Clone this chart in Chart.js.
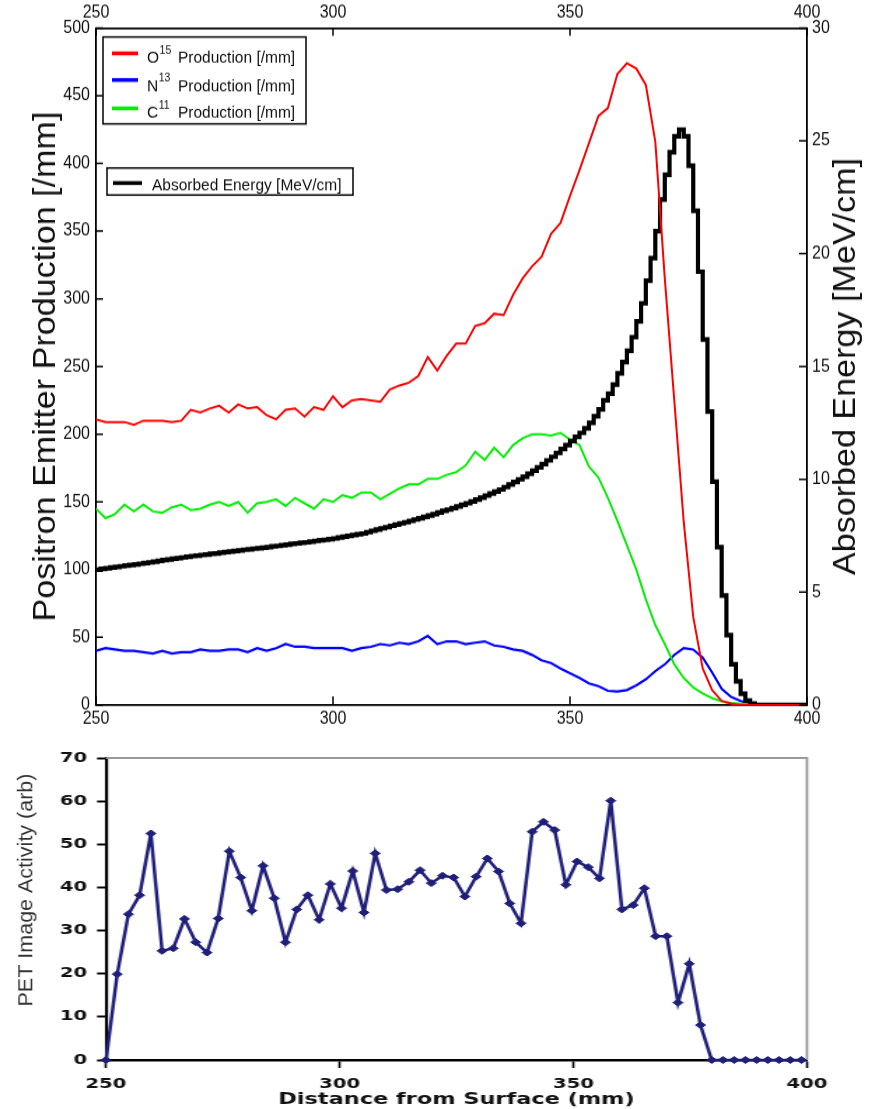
<!DOCTYPE html>
<html>
<head>
<meta charset="utf-8">
<title>Positron emitter production and PET activity</title>
<script src="https://cdn.jsdelivr.net/npm/chart.js@4.4.1/dist/chart.umd.min.js"></script>
<style>
  body { margin: 0; background: #fff; }
  /* the top figure is a little taller than wide in the original, so stretch it */
  #topBox { position: absolute; left: 0; top: 0; width: 875px; height: 665px;
            transform: scaleY(1.1); transform-origin: 0 0; }
  /* the PET plot was pasted in stretched sideways (wide glyphs and markers) */
  #petBox { position: absolute; left: 0; top: 735px; width: 625px; height: 374px;
            transform: scaleX(1.4); transform-origin: 0 0; }
</style>
</head>
<body>
<div id="topBox"><canvas id="emitterChart" width="875" height="665"></canvas></div>
<div id="petBox"><canvas id="petChart" width="625" height="374"></canvas></div>
<script>
// depth grids (mm)
const depth1mm = [
  250, 251, 252, 253, 254, 255, 256, 257, 258, 259,
  260, 261, 262, 263, 264, 265, 266, 267, 268, 269,
  270, 271, 272, 273, 274, 275, 276, 277, 278, 279,
  280, 281, 282, 283, 284, 285, 286, 287, 288, 289,
  290, 291, 292, 293, 294, 295, 296, 297, 298, 299,
  300, 301, 302, 303, 304, 305, 306, 307, 308, 309,
  310, 311, 312, 313, 314, 315, 316, 317, 318, 319,
  320, 321, 322, 323, 324, 325, 326, 327, 328, 329,
  330, 331, 332, 333, 334, 335, 336, 337, 338, 339,
  340, 341, 342, 343, 344, 345, 346, 347, 348, 349,
  350, 351, 352, 353, 354, 355, 356, 357, 358, 359,
  360, 361, 362, 363, 364, 365, 366, 367, 368, 369,
  370, 371, 372, 373, 374, 375, 376, 377, 378, 379,
  380, 381, 382, 383, 384, 385, 386, 387, 388, 389,
  390, 391, 392, 393, 394, 395, 396, 397, 398, 399,
  400
];
const depth2mm = [
  250, 252, 254, 256, 258, 260, 262, 264, 266, 268,
  270, 272, 274, 276, 278, 280, 282, 284, 286, 288,
  290, 292, 294, 296, 298, 300, 302, 304, 306, 308,
  310, 312, 314, 316, 318, 320, 322, 324, 326, 328,
  330, 332, 334, 336, 338, 340, 342, 344, 346, 348,
  350, 352, 354, 356, 358, 360, 362, 364, 366, 368,
  370, 372, 374, 376, 378, 380, 382, 384, 386, 388,
  390, 392, 394, 396, 398, 400
];

// production per mm (left axis)
const o15Production = [
  211, 209, 209, 209, 207, 210, 210, 210, 209, 210,
  218, 216, 219, 221, 216, 222, 219, 220, 214, 211,
  218, 219, 213, 220, 218, 228, 220, 225, 226, 225,
  224, 233, 236, 238, 243, 257, 247, 258, 267, 267,
  280, 282, 289, 288, 303, 315, 324, 331, 348, 356,
  376, 395, 415, 435, 441, 466, 474, 470, 458, 416,
  315, 225, 135, 65, 27, 11, 3, 1, 0, 0,
  0, 0, 0, 0, 0, 0
];
const n13Production = [
  40, 42, 41, 40, 40, 39, 38, 40, 38, 39,
  39, 41, 40, 40, 41, 41, 39, 42, 40, 42,
  45, 43, 43, 42, 42, 42, 42, 40, 42, 43,
  45, 44, 46, 45, 47, 51, 45, 47, 47, 45,
  46, 47, 44, 43, 41, 40, 37, 33, 31, 27,
  23.5, 20, 16, 14, 10.5, 10, 11, 14.5, 19, 25,
  30, 37, 42, 41, 35, 24, 12, 6, 3, 1,
  0.3, 0, 0, 0, 0, 0
];
const c11Production = [
  145, 138, 141, 148, 143, 148, 143, 142, 146, 148,
  144, 145, 148, 150, 147, 150, 142, 149, 150, 152,
  147, 153, 149, 145, 152, 150, 155, 153, 157, 157,
  152, 156, 160, 163, 163, 167, 167, 170, 172, 177,
  187, 181, 190, 183, 192, 197, 200, 200, 199, 201,
  196, 192, 176, 168, 153, 136, 118, 100, 78, 59,
  45, 30, 20, 13, 8.5, 5, 2.7, 1.6, 1, 0.4,
  0, 0, 0, 0, 0, 0
];
// absorbed energy MeV/cm (right axis), 1 mm bins
const absorbedEnergy = [
  6.0, 6.03, 6.06, 6.09, 6.12, 6.15, 6.18, 6.2, 6.23, 6.26,
  6.29, 6.32, 6.35, 6.39, 6.42, 6.45, 6.48, 6.51, 6.54, 6.57,
  6.6, 6.62, 6.65, 6.67, 6.7, 6.72, 6.75, 6.78, 6.8, 6.83,
  6.85, 6.88, 6.9, 6.93, 6.95, 6.97, 7.0, 7.03, 7.05, 7.08,
  7.11, 7.14, 7.16, 7.19, 7.21, 7.24, 7.27, 7.3, 7.32, 7.35,
  7.38, 7.42, 7.46, 7.5, 7.53, 7.57, 7.6, 7.66, 7.72, 7.78,
  7.83, 7.88, 7.94, 8.0, 8.05, 8.1, 8.16, 8.22, 8.28, 8.34,
  8.4, 8.46, 8.53, 8.6, 8.66, 8.73, 8.8, 8.87, 8.94, 9.02,
  9.1, 9.19, 9.28, 9.37, 9.46, 9.55, 9.66, 9.77, 9.88, 10.0,
  10.12, 10.25, 10.38, 10.53, 10.68, 10.84, 11.0, 11.17, 11.35, 11.52,
  11.7, 11.88, 12.06, 12.26, 12.5, 12.8, 13.1, 13.5, 13.8, 14.2,
  14.7, 15.2, 15.7, 16.3, 17.0, 17.8, 18.8, 19.8, 21.0, 22.4,
  23.5, 24.5, 25.2, 25.5, 25.2, 23.9, 21.9, 19.2, 16.2, 13.0,
  9.9, 7.0, 4.85, 3.1, 1.8, 1.05, 0.5, 0.2, 0.06, 0,
  0, 0, 0, 0, 0, 0, 0, 0, 0, 0,
  0
];

const isotopeNames = ['O', 'N', 'C'];
const isotopeMass = ['15', '13', '11'];
const isotopeColors = ['#ff0000', '#0000ff', '#00f000'];
const productionLabel = 'Production [/mm]';
const energyLabel = 'Absorbed Energy [MeV/cm]';
const productionTitle = 'Positron Emitter Production [/mm]';

// PET image profile
const petDepth = [
  250, 252.4, 254.8, 257.2, 259.6, 262, 264.4, 266.8, 269.2, 271.6,
  274, 276.4, 278.8, 281.2, 283.6, 286, 288.4, 290.8, 293.2, 295.6,
  298, 300.4, 302.8, 305.2, 307.6, 310, 312.4, 314.8, 317.2, 319.6,
  322, 324.4, 326.8, 329.2, 331.6, 334, 336.4, 338.8, 341.2, 343.6,
  346, 348.4, 350.8, 353.2, 355.6, 358, 360.4, 362.8, 365.2, 367.6,
  370, 372.4, 374.8, 377.2, 379.6, 382, 384.4, 386.8, 389.2, 391.6,
  394, 396.4, 398.8
];
const petActivity = [
  0, 19.9, 33.8, 38.2, 52.5, 25.3, 25.9, 32.7, 27.3, 24.9,
  32.8, 48.4, 42.3, 34.6, 45, 37.5, 27.3, 34.9, 38.2, 32.5,
  40.8, 35.2, 43.8, 34.2, 47.9, 39.4, 39.6, 41.3, 44, 41,
  42.7, 42.3, 37.9, 42.5, 46.7, 43.7, 36.3, 31.7, 52.9, 55.2,
  53.3, 40.6, 46, 44.7, 42.1, 60.1, 34.9, 35.9, 39.8, 28.7,
  28.7, 13.3, 22.3, 8.1, 0, 0, 0, 0, 0, 0,
  0, 0, 0
];
const petTitleX = 'Distance from Surface (mm)';
const petTitleY = 'PET Image Activity (arb)';

const FONT = '"Liberation Sans", Arial, sans-serif';
const WIDE = '"DejaVu Sans", Verdana, sans-serif';
const PET_STRETCH = 1.4;

function pairs(xs, ys) {
  return xs.map((x, i) => ({ x: x, y: ys[i] }));
}

// ---------- top chart ----------

// tick marks pointing into the plot on all four sides
const innerTicks = {
  id: 'innerTicks',
  afterDraw(chart) {
    const ctx = chart.ctx;
    const a = chart.chartArea;
    const s = chart.scales;
    ctx.save();
    ctx.strokeStyle = '#000';
    ctx.lineWidth = 1.5;
    ctx.beginPath();
    s.x.ticks.forEach(t => {
      const p = s.x.getPixelForValue(t.value);
      ctx.moveTo(p, a.bottom); ctx.lineTo(p, a.bottom - 8);
    });
    s.xTop.ticks.forEach(t => {
      const p = s.xTop.getPixelForValue(t.value);
      ctx.moveTo(p, a.top); ctx.lineTo(p, a.top + 7);
    });
    s.y.ticks.forEach(t => {
      const p = s.y.getPixelForValue(t.value);
      ctx.moveTo(a.left, p); ctx.lineTo(a.left + 7, p);
    });
    s.y2.ticks.forEach(t => {
      const p = s.y2.getPixelForValue(t.value);
      ctx.moveTo(a.right, p); ctx.lineTo(a.right - 8, p);
    });
    ctx.stroke();
    ctx.restore();
  }
};

// two boxed legends + right axis title (reads bottom to top like the left one)
const boxedLegends = {
  id: 'boxedLegends',
  afterDraw(chart) {
    const ctx = chart.ctx;
    const a = chart.chartArea;
    ctx.save();
    ctx.lineWidth = 1.5;
    ctx.strokeStyle = '#000';
    ctx.fillStyle = '#fff';
    ctx.fillRect(103, 33.6, 203, 79);
    ctx.strokeRect(103, 33.6, 203, 79);

    const rowLine = [48.5, 72.7, 98.5];
    const rowBase = [57.3, 82.5, 107.3];
    ctx.textBaseline = 'alphabetic';
    isotopeNames.forEach((name, i) => {
      ctx.strokeStyle = isotopeColors[i];
      ctx.lineWidth = 3.5;
      ctx.beginPath();
      ctx.moveTo(112, rowLine[i]);
      ctx.lineTo(138, rowLine[i]);
      ctx.stroke();
      ctx.fillStyle = '#111';
      ctx.font = '15.5px ' + FONT;
      ctx.fillText(name, 147, rowBase[i]);
      const w = ctx.measureText(name).width;
      ctx.font = '10.5px ' + FONT;
      ctx.fillText(isotopeMass[i], 147 + w + 0.5, rowBase[i] - 8.5);
      ctx.font = '15.5px ' + FONT;
      ctx.fillText(productionLabel, 178, rowBase[i]);
    });

    ctx.strokeStyle = '#000';
    ctx.lineWidth = 1.5;
    ctx.fillStyle = '#fff';
    ctx.fillRect(107, 152.7, 246, 24.6);
    ctx.strokeRect(107, 152.7, 246, 24.6);
    ctx.lineWidth = 3.5;
    ctx.beginPath();
    ctx.moveTo(113, 166.4);
    ctx.lineTo(142, 166.4);
    ctx.stroke();
    ctx.fillStyle = '#111';
    ctx.font = '15.5px ' + FONT;
    ctx.fillText(energyLabel, 152, 172.7);

    ctx.translate(846, (a.top + a.bottom) / 2);
    ctx.rotate(-Math.PI / 2);
    ctx.font = '31px ' + FONT;
    ctx.textAlign = 'center';
    ctx.textBaseline = 'middle';
    ctx.fillText(energyLabel, 0, 0);
    ctx.restore();
  }
};

const tickFont = { family: FONT, size: 16 };

new Chart(document.getElementById('emitterChart'), {
  type: 'line',
  data: {
    datasets: [
      { label: 'O15', data: pairs(depth2mm, o15Production), borderColor: isotopeColors[0],
        borderWidth: 2, yAxisID: 'y', order: 0 },
      { label: energyLabel, data: pairs(depth1mm, absorbedEnergy), borderColor: '#000',
        borderWidth: 4.2, stepped: true, borderJoinStyle: 'miter', yAxisID: 'y2', order: 1 },
      { label: 'C11', data: pairs(depth2mm, c11Production), borderColor: isotopeColors[2],
        borderWidth: 2, yAxisID: 'y', order: 2 },
      { label: 'N13', data: pairs(depth2mm, n13Production), borderColor: isotopeColors[1],
        borderWidth: 2.2, yAxisID: 'y', order: 3 }
    ]
  },
  options: {
    responsive: false,
    animation: false,
    devicePixelRatio: 1,
    layout: { padding: 0 },
    elements: { point: { radius: 0 }, line: { tension: 0 } },
    plugins: { legend: { display: false }, tooltip: { enabled: false } },
    scales: {
      x: {
        type: 'linear', position: 'bottom', min: 250, max: 400,
        ticks: { stepSize: 50, padding: 3.5, color: '#111', font: tickFont, maxRotation: 0, autoSkip: false },
        grid: { drawOnChartArea: false, drawTicks: false },
        border: { color: '#000', width: 1.8 },
        afterFit(s) { s.height = 665 - 640.9; }
      },
      xTop: {
        type: 'linear', position: 'top', min: 250, max: 400,
        ticks: { stepSize: 50, padding: 4, color: '#111', font: tickFont, maxRotation: 0, autoSkip: false },
        grid: { drawOnChartArea: false, drawTicks: false },
        border: { color: '#000', width: 1.8 },
        afterFit(s) { s.height = 25.45; }
      },
      y: {
        position: 'left', min: 0, max: 500,
        ticks: { stepSize: 50, padding: 6, color: '#111', font: tickFont, autoSkip: false },
        grid: { drawOnChartArea: false, drawTicks: false },
        border: { color: '#000', width: 1.8 },
        title: { display: true, text: productionTitle, color: '#111',
                 font: { family: FONT, size: 31 }, padding: { top: 27.4, bottom: 0 } },
        afterFit(s) { s.width = 96; }
      },
      y2: {
        position: 'right', min: 0, max: 30,
        ticks: { stepSize: 5, padding: 5, color: '#111', font: tickFont, autoSkip: false },
        grid: { drawOnChartArea: false, drawTicks: false },
        border: { color: '#000', width: 1.8 },
        afterFit(s) { s.width = 68; }
      }
    }
  },
  plugins: [innerTicks, boxedLegends]
});

// ---------- bottom chart (drawn narrow, stretched by CSS) ----------

const petFrame = {
  id: 'petFrame',
  beforeDatasetsDraw(chart) {
    const ctx = chart.ctx;
    const a = chart.chartArea;
    ctx.save();
    ctx.strokeStyle = '#999';
    ctx.lineWidth = 1.8;
    ctx.beginPath();
    ctx.moveTo(a.left, a.top);
    ctx.lineTo(a.right, a.top);
    ctx.lineTo(a.right, a.bottom);
    ctx.stroke();
    ctx.restore();
  },
  afterDraw(chart) {
    // y title is not stretched in the original, so undo the CSS stretch here
    const ctx = chart.ctx;
    ctx.save();
    ctx.translate(26 / PET_STRETCH, 155);
    ctx.scale(1 / PET_STRETCH, 1);
    ctx.rotate(-Math.PI / 2);
    ctx.font = '21.5px ' + FONT;
    ctx.fillStyle = '#333';
    ctx.textAlign = 'center';
    ctx.textBaseline = 'middle';
    ctx.fillText(petTitleY, 0, 0);
    ctx.restore();
  }
};

const wideTick = { family: WIDE, size: 14, weight: 'bold' };

new Chart(document.getElementById('petChart'), {
  type: 'line',
  data: {
    datasets: [{
      label: petTitleY,
      data: pairs(petDepth, petActivity),
      borderColor: '#1f1f7a',
      backgroundColor: '#1f1f7a',
      borderWidth: 2.5,
      pointStyle: 'rectRot',
      pointRadius: 3.5,
      pointBorderWidth: 1,
      tension: 0,
      clip: 8
    }]
  },
  options: {
    responsive: false,
    animation: false,
    devicePixelRatio: 1,
    layout: { padding: { top: 23, right: 625 - 807 / PET_STRETCH, left: 0, bottom: 0 } },
    plugins: { legend: { display: false }, tooltip: { enabled: false } },
    scales: {
      x: {
        type: 'linear', min: 250, max: 400,
        ticks: { stepSize: 50, padding: 8, color: '#111', font: wideTick, maxRotation: 0, autoSkip: false },
        grid: { drawOnChartArea: false, tickLength: 8, tickColor: '#000', tickWidth: 1.6 },
        border: { color: '#000', width: 2.5 },
        title: { display: true, text: petTitleX, color: '#111', padding: 0,
                 font: { family: WIDE, size: 16, weight: 'bold' } },
        afterFit(s) { s.height = 49; }
      },
      y: {
        min: 0, max: 70,
        ticks: { stepSize: 10, padding: 7, color: '#111', font: wideTick, autoSkip: false },
        grid: { drawOnChartArea: false, tickLength: 6.4, tickColor: '#000', tickWidth: 2 },
        border: { color: '#000', width: 2.2 },
        afterFit(s) { s.width = 106 / PET_STRETCH; }
      }
    }
  },
  plugins: [petFrame]
});
</script>
</body>
</html>
